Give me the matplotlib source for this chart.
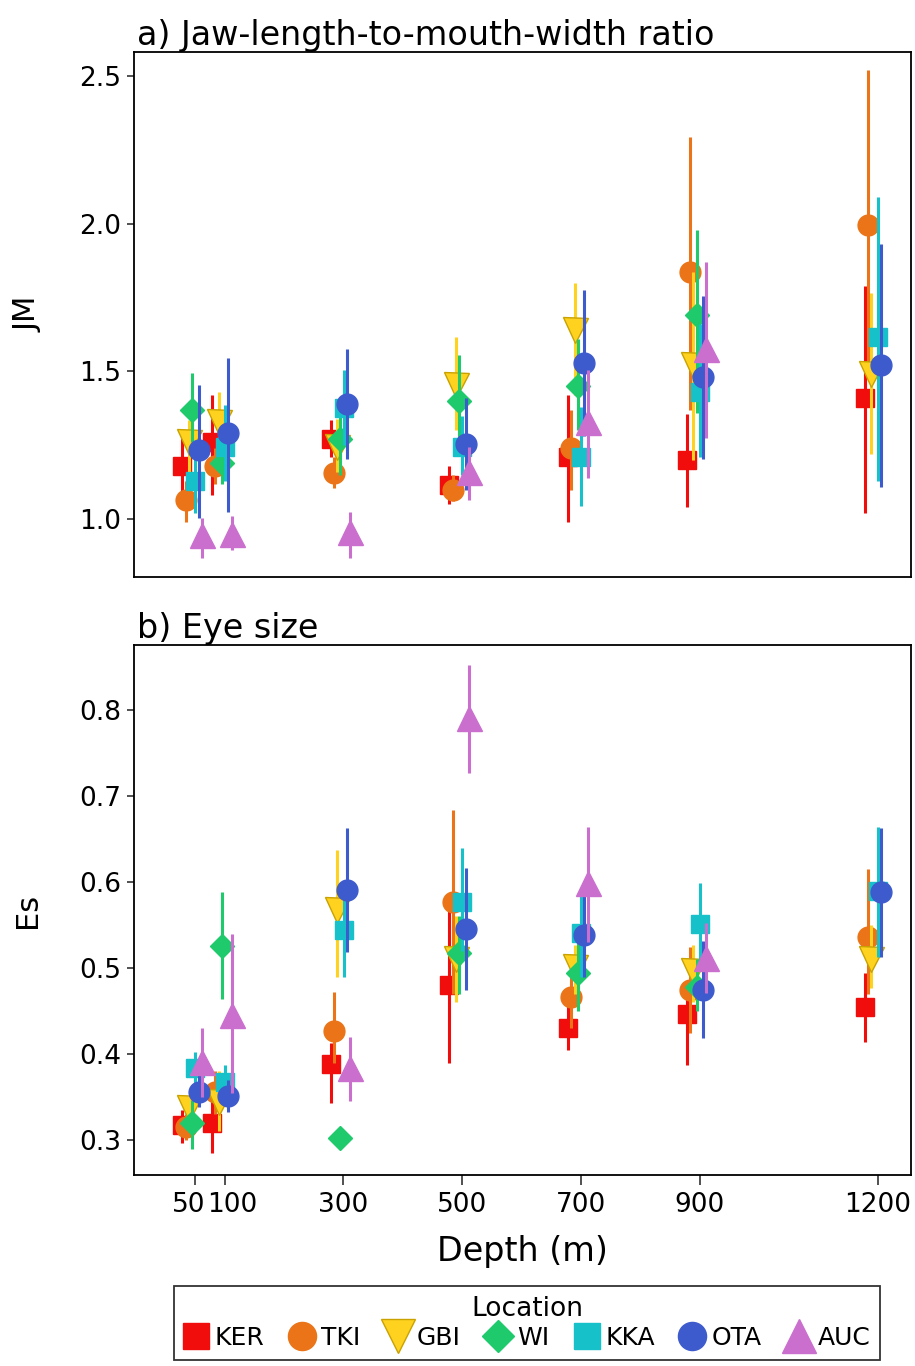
"""
plot.py
Jaw-length-to-mouth-width ratio and eye size against depth, by location.
"""
import numpy as np
import matplotlib
matplotlib.use( 'Agg' )
import matplotlib.pyplot as plt
import matplotlib.transforms as mtrans
from matplotlib.lines import Line2D

nan = np.nan

#-------------------------------------------------------------------------
# Data
#-------------------------------------------------------------------------

depths     = [ 50, 100, 300, 500, 700, 900, 1200 ]
depth_tick = [ 50, 100, 300, 500, 700, 900, 1200 ]
locations  = [ 'KER', 'TKI', 'GBI', 'WI', 'KKA', 'OTA', 'AUC' ]

# a) JM : mean, lower, upper
jm_ker     = [ 1.18,  1.26,  1.27,  1.115, 1.21,  1.20,  1.41  ]
jm_ker_lo  = [ 1.06,  1.08,  1.21,  1.05,  0.99,  1.04,  1.02  ]
jm_ker_hi  = [ 1.29,  1.42,  1.335, 1.18,  1.42,  1.355, 1.79  ]

jm_tki     = [ 1.065, 1.18,  1.155, 1.10,  1.24,  1.835, 1.995 ]
jm_tki_lo  = [ 0.99,  1.12,  1.105, 1.06,  1.10,  1.37,  1.48  ]
jm_tki_hi  = [ 1.13,  1.24,  1.21,  1.15,  1.37,  2.295, 2.52  ]

jm_gbi     = [ 1.26,  1.33,  1.245, 1.455, 1.64,  1.52,  1.49  ]
jm_gbi_lo  = [ 1.14,  1.20,  1.16,  1.30,  1.42,  1.20,  1.22  ]
jm_gbi_hi  = [ 1.335, 1.43,  1.34,  1.615, 1.80,  1.835, 1.765 ]

jm_wi      = [ 1.37,  1.19,  1.27,  1.40,  1.45,  1.69,  nan   ]
jm_wi_lo   = [ 1.26,  1.12,  1.15,  1.26,  1.30,  1.36,  nan   ]
jm_wi_hi   = [ 1.495, 1.26,  1.38,  1.555, 1.61,  1.98,  nan   ]

jm_kka     = [ 1.13,  1.245, 1.375, 1.245, 1.21,  1.43,  1.615 ]
jm_kka_lo  = [ 1.02,  1.13,  1.25,  1.15,  1.045, 1.21,  1.13  ]
jm_kka_hi  = [ 1.24,  1.385, 1.505, 1.35,  1.38,  1.66,  2.09  ]

jm_ota     = [ 1.235, 1.29,  1.39,  1.255, 1.53,  1.48,  1.52  ]
jm_ota_lo  = [ 1.005, 1.025, 1.205, 1.10,  1.28,  1.205, 1.11  ]
jm_ota_hi  = [ 1.455, 1.545, 1.575, 1.41,  1.775, 1.755, 1.93  ]

jm_auc     = [ 0.945, 0.95,  0.955, 1.16,  1.33,  1.575, nan   ]
jm_auc_lo  = [ 0.87,  0.895, 0.87,  1.065, 1.14,  1.275, nan   ]
jm_auc_hi  = [ 1.005, 1.01,  1.025, 1.245, 1.505, 1.87,  nan   ]

# b) Es : mean, lower, upper
es_ker     = [ 0.317, 0.32,  0.388, 0.48,  0.43,  0.447, 0.455 ]
es_ker_lo  = [ 0.296, 0.285, 0.343, 0.39,  0.405, 0.387, 0.414 ]
es_ker_hi  = [ 0.335, 0.345, 0.413, 0.57,  0.46,  0.47,  0.494 ]

es_tki     = [ 0.315, 0.356, 0.427, 0.577, 0.466, 0.475, 0.536 ]
es_tki_lo  = [ 0.30,  0.33,  0.39,  0.47,  0.43,  0.424, 0.47  ]
es_tki_hi  = [ 0.33,  0.38,  0.472, 0.684, 0.50,  0.525, 0.615 ]

es_gbi     = [ 0.337, 0.344, 0.567, 0.511, 0.501, 0.496, 0.511 ]
es_gbi_lo  = [ 0.32,  0.31,  0.49,  0.46,  0.47,  0.46,  0.477 ]
es_gbi_hi  = [ 0.35,  0.38,  0.637, 0.56,  0.527, 0.527, 0.55  ]

es_wi      = [ 0.32,  0.526, 0.302, 0.517, 0.494, 0.478, nan   ]
es_wi_lo   = [ 0.29,  0.464, 0.29,  0.47,  0.45,  0.45,  nan   ]
es_wi_hi   = [ 0.347, 0.588, 0.312, 0.56,  0.53,  0.51,  nan   ]

es_kka     = [ 0.384, 0.367, 0.544, 0.577, 0.541, 0.551, 0.589 ]
es_kka_lo  = [ 0.36,  0.345, 0.49,  0.52,  0.49,  0.50,  0.513 ]
es_kka_hi  = [ 0.402, 0.387, 0.59,  0.64,  0.587, 0.599, 0.664 ]

es_ota     = [ 0.356, 0.351, 0.591, 0.545, 0.538, 0.474, 0.588 ]
es_ota_lo  = [ 0.338, 0.333, 0.519, 0.474, 0.49,  0.419, 0.513 ]
es_ota_hi  = [ 0.38,  0.37,  0.663, 0.616, 0.585, 0.532, 0.663 ]

es_auc     = [ 0.391, 0.445, 0.384, 0.791, 0.599, 0.512, nan   ]
es_auc_lo  = [ 0.35,  0.355, 0.345, 0.727, 0.53,  0.471, nan   ]
es_auc_hi  = [ 0.43,  0.54,  0.42,  0.852, 0.664, 0.552, nan   ]

#-------------------------------------------------------------------------
# Styles
#-------------------------------------------------------------------------

styles = {
  'KER' : dict( marker='s', ms=13.5, color='#f20d0d', edge='#f20d0d' ),
  'TKI' : dict( marker='o', ms=15,   color='#ea7417', edge='#ea7417' ),
  'GBI' : dict( marker='v', ms=18,   color='#ffd21f', edge='#c9a200' ),
  'WI'  : dict( marker='D', ms=12,   color='#1fca6c', edge='#1fca6c' ),
  'KKA' : dict( marker='s', ms=13.5, color='#17c1ca', edge='#17c1ca' ),
  'OTA' : dict( marker='o', ms=15,   color='#3d5bcc', edge='#3d5bcc' ),
  'AUC' : dict( marker='^', ms=18,   color='#cb6fcf', edge='#cb6fcf' ),
}

plt.rcParams['font.family'] = 'DejaVu Sans'

#-------------------------------------------------------------------------
# plot_panel
#-------------------------------------------------------------------------
# Dodged points with vertical interval lines for every location.

def plot_panel( ax, means, lows, highs ):
  x = np.array( depths, dtype=float )
  for i, loc in enumerate( locations ):
    st = styles[loc]
    xs = x - 5 + 5.5 * ( i - 3 )
    ax.vlines( xs, lows[loc], highs[loc], color=st['color'], lw=2.2,
               zorder=2 + 2*i )
    ax.plot( xs, means[loc], linestyle='none', marker=st['marker'],
             ms=st['ms'], mfc=st['color'], mec=st['edge'], mew=1.0,
             zorder=3 + 2*i )

  ax.set_xlim( -53, 1256 )
  ax.set_xticks( depth_tick )
  ax.tick_params( axis='both', labelsize=19, length=5, width=1.2,
                  color='#333333', pad=4 )
  for side in ax.spines.values():
    side.set_linewidth( 1.3 )

#-------------------------------------------------------------------------
# main
#-------------------------------------------------------------------------

fig = plt.figure( figsize=(9.15, 13.66), dpi=100 )

ax_a = fig.add_axes( [ 0.1464, 0.5776, 0.849, 0.3843 ] )
ax_b = fig.add_axes( [ 0.1464, 0.1398, 0.849, 0.3880 ] )

plot_panel( ax_a,
  { 'KER' : jm_ker, 'TKI' : jm_tki, 'GBI' : jm_gbi, 'WI' : jm_wi,
    'KKA' : jm_kka, 'OTA' : jm_ota, 'AUC' : jm_auc },
  { 'KER' : jm_ker_lo, 'TKI' : jm_tki_lo, 'GBI' : jm_gbi_lo, 'WI' : jm_wi_lo,
    'KKA' : jm_kka_lo, 'OTA' : jm_ota_lo, 'AUC' : jm_auc_lo },
  { 'KER' : jm_ker_hi, 'TKI' : jm_tki_hi, 'GBI' : jm_gbi_hi, 'WI' : jm_wi_hi,
    'KKA' : jm_kka_hi, 'OTA' : jm_ota_hi, 'AUC' : jm_auc_hi } )

plot_panel( ax_b,
  { 'KER' : es_ker, 'TKI' : es_tki, 'GBI' : es_gbi, 'WI' : es_wi,
    'KKA' : es_kka, 'OTA' : es_ota, 'AUC' : es_auc },
  { 'KER' : es_ker_lo, 'TKI' : es_tki_lo, 'GBI' : es_gbi_lo, 'WI' : es_wi_lo,
    'KKA' : es_kka_lo, 'OTA' : es_ota_lo, 'AUC' : es_auc_lo },
  { 'KER' : es_ker_hi, 'TKI' : es_tki_hi, 'GBI' : es_gbi_hi, 'WI' : es_wi_hi,
    'KKA' : es_kka_hi, 'OTA' : es_ota_hi, 'AUC' : es_auc_hi } )

ax_a.set_ylim( 0.804, 2.581 )
ax_a.set_yticks( [ 1.0, 1.5, 2.0, 2.5 ] )
ax_a.set_yticklabels( [ '1.0', '1.5', '2.0', '2.5' ] )
ax_a.set_xticklabels( [] )
ax_a.tick_params( axis='x', length=0 )
ax_a.set_ylabel( 'JM', fontsize=22 )
ax_a.yaxis.set_label_coords( -0.118, 0.5 )
ax_a.set_title( 'a) Jaw-length-to-mouth-width ratio', loc='left',
                fontsize=24, pad=5, x=0.004 )

ax_b.set_ylim( 0.2593, 0.8756 )
ax_b.set_yticks( [ 0.3, 0.4, 0.5, 0.6, 0.7, 0.8 ] )
ax_b.set_xticklabels( [ str( d ) for d in depth_tick ] )
ax_b.tick_params( axis='x', length=7, pad=5 )
ax_b.set_ylabel( 'Es', fontsize=22 )
ax_b.yaxis.set_label_coords( -0.118, 0.5 )
ax_b.set_xlabel( 'Depth (m)', fontsize=24 )
ax_b.xaxis.set_label_coords( 0.5, -0.114 )
ax_b.set_title( 'b) Eye size', loc='left', fontsize=24, pad=5, x=0.004 )

# "50" and "100" sit close together: nudge them apart a little
xlabels = ax_b.get_xticklabels()
xlabels[0].set_transform( xlabels[0].get_transform() +
  mtrans.ScaledTranslation( -4.5/72, 0, fig.dpi_scale_trans ) )
xlabels[1].set_transform( xlabels[1].get_transform() +
  mtrans.ScaledTranslation( 5.5/72, 0, fig.dpi_scale_trans ) )

# Legend along the bottom edge
handles = [ Line2D( [], [], linestyle='none', marker=styles[l]['marker'],
                    ms=styles[l]['ms'] * 1.35, mfc=styles[l]['color'],
                    mec=styles[l]['edge'] ) for l in locations ]
leg = fig.legend( handles, locations, title='Location', ncol=7,
                  loc='upper center', bbox_to_anchor=( 0.576, 0.0585 ),
                  fontsize=18, title_fontsize=19, frameon=True,
                  fancybox=False, edgecolor='black', handlelength=1.0,
                  handletextpad=0.25, columnspacing=1.0, borderpad=0.4,
                  labelspacing=0.15, borderaxespad=0 )
leg.get_frame().set_linewidth( 1.3 )

fig.savefig( 'out.png', dpi=100 )
